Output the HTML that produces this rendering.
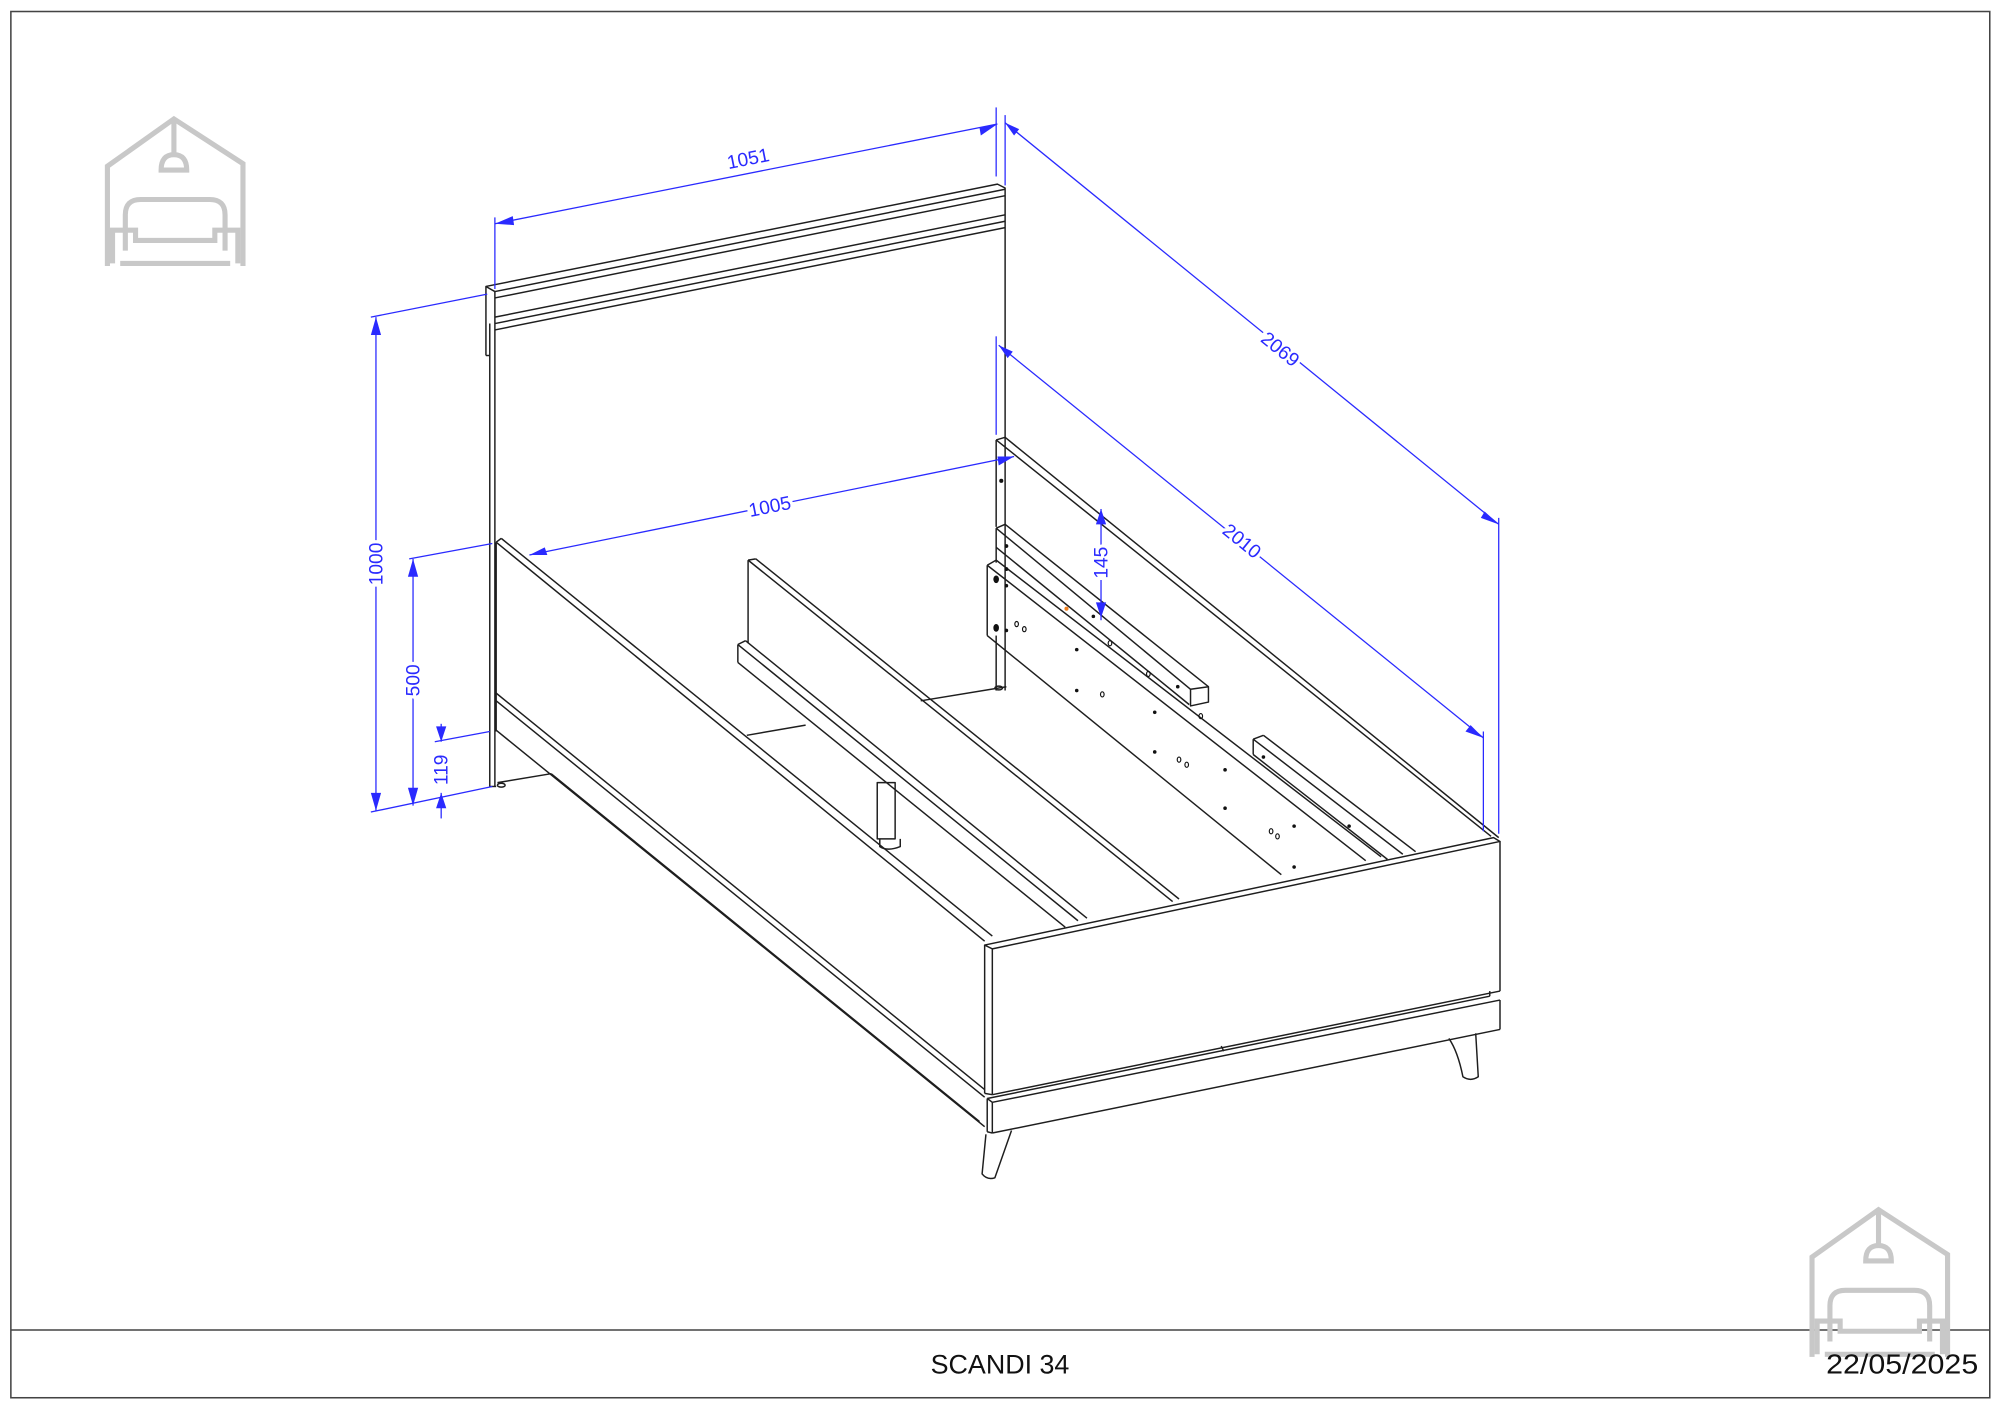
<!DOCTYPE html>
<html><head><meta charset="utf-8"><style>
html,body{margin:0;padding:0;background:#fff;}
svg{display:block;}
text{font-family:"Liberation Sans",sans-serif;}
</style></head><body>
<svg width="2000" height="1409" viewBox="0 0 1564 1101.8" preserveAspectRatio="none" xmlns="http://www.w3.org/2000/svg">
<rect x="0" y="0" width="1564" height="1102" fill="#fff"/>
<rect x="8.5" y="9" width="1547.5" height="1084" fill="none" stroke="#444" stroke-width="1.2"/>
<line x1="8.5" y1="1040" x2="1556" y2="1040" stroke="#444" stroke-width="1.2"/>

<!-- logos -->
<g id="logo" fill="none" stroke="#c8c8c8" stroke-width="4" stroke-linejoin="miter">
<polyline points="84,208 84,130 136,93 190,128 190,208"/>
<line x1="136" y1="95" x2="136" y2="120"/>
<path d="M126,133 Q126,121 136,121 Q146,121 146,133 Z"/>
<path d="M98,196 L98,168 Q98,156 110,156 L164,156 Q176,156 176,168 L176,196"/>
<path d="M88,206 L88,180 L106,180 L106,188 L168,188 L168,180 L186,180 L186,206"/>
<line x1="94" y1="206" x2="180" y2="206"/>
</g>
<use href="#logo" transform="translate(1333,853)"/>

<text x="782" y="1074" font-size="21" text-anchor="middle" fill="#111">SCANDI 34</text>
<text x="1547" y="1074" font-size="22" text-anchor="end" fill="#111" textLength="119" lengthAdjust="spacingAndGlyphs">22/05/2025</text>

<!-- bed -->
<g fill="none" stroke="#1e1e1e" stroke-width="1.15" stroke-linejoin="round">
<!-- headboard -->
<polyline points="380,278 380,224 780,144 786,147 786,540"/>
<line x1="380" y1="224" x2="387" y2="228"/>
<line x1="387" y1="228" x2="786" y2="148"/>
<line x1="387" y1="233" x2="786" y2="153"/>
<line x1="387" y1="248" x2="786" y2="168"/>
<line x1="387" y1="253" x2="786" y2="173"/>
<line x1="387" y1="258" x2="786" y2="178"/>
<line x1="387" y1="228" x2="387" y2="615"/>
<line x1="383" y1="253" x2="383" y2="615"/>
<line x1="380" y1="278" x2="383" y2="278"/>
<line x1="383" y1="615" x2="388" y2="615"/>
<line x1="389" y1="612" x2="431" y2="605"/>
<ellipse cx="392" cy="614" rx="3" ry="1.5"/>
<line x1="720" y1="548" x2="787" y2="537"/>
<ellipse cx="781" cy="538" rx="3" ry="1.5"/>

<!-- left side rail -->
<line x1="388" y1="424" x2="392" y2="421"/>
<line x1="388" y1="424" x2="770" y2="736"/>
<line x1="392" y1="421" x2="776" y2="732"/>
<line x1="388" y1="424" x2="388" y2="572"/>
<line x1="388" y1="542" x2="770" y2="852"/>
<line x1="388" y1="548" x2="770" y2="858"/>
<line x1="388" y1="571" x2="770" y2="881"/>
<line x1="431" y1="605" x2="766" y2="877"/>

<!-- center panel and beam -->
<line x1="585" y1="438" x2="591" y2="437"/>
<line x1="585" y1="438" x2="917" y2="705"/>
<line x1="591" y1="437" x2="922" y2="703"/>
<line x1="585" y1="438" x2="585" y2="503"/>
<line x1="577" y1="504" x2="583" y2="501"/>
<line x1="583" y1="501" x2="850" y2="718"/>
<line x1="577" y1="504" x2="843" y2="720"/>
<line x1="577" y1="504" x2="577" y2="518"/>
<line x1="577" y1="518" x2="833" y2="725"/>
<line x1="584" y1="575" x2="630" y2="567"/>
<rect x="686" y="612" width="14" height="44"/>
<path d="M688,656 L688,662 Q694,666 704,662 L704,656"/>

<!-- right side rail -->
<line x1="779" y1="344" x2="786" y2="342"/>
<line x1="779" y1="344" x2="1166" y2="654"/>
<line x1="786" y1="342" x2="1172" y2="655"/>
<line x1="779" y1="344" x2="779" y2="412"/>
<line x1="779" y1="497" x2="779" y2="540"/>
<!-- upper support -->
<line x1="779" y1="413" x2="786" y2="410"/>
<line x1="786" y1="410" x2="945" y2="537"/>
<line x1="779" y1="413" x2="931" y2="539"/>
<line x1="779" y1="413" x2="779" y2="440"/>
<line x1="779" y1="428" x2="930" y2="551"/>
<polygon points="931,539 945,537 945,549 931,552"/>
<!-- plate -->
<line x1="772" y1="442" x2="779" y2="438"/>
<line x1="779" y1="438" x2="1080" y2="670"/>
<line x1="772" y1="442" x2="1068" y2="673"/>
<line x1="772" y1="442" x2="772" y2="497"/>
<line x1="772" y1="497" x2="1002" y2="684"/>
<!-- short support -->
<line x1="980" y1="578" x2="988" y2="575"/>
<line x1="988" y1="575" x2="1107" y2="666"/>
<line x1="980" y1="578" x2="1097" y2="668"/>
<line x1="980" y1="578" x2="980" y2="590"/>
<line x1="980" y1="590" x2="1085" y2="672"/>

<!-- footboard -->
<polygon points="770,739 1168,655 1173,658 776,742" fill="#fff"/>
<line x1="770" y1="739" x2="770" y2="855"/>
<line x1="776" y1="742" x2="776" y2="856"/>
<line x1="1173" y1="658" x2="1173" y2="775"/>
<line x1="776" y1="856" x2="1173" y2="775"/>
<line x1="770" y1="855" x2="776" y2="856"/>
<!-- plinth -->
<line x1="772" y1="859" x2="1165" y2="779"/>
<line x1="772" y1="859" x2="776" y2="862"/>
<line x1="776" y1="862" x2="1173" y2="782"/>
<line x1="1165" y1="779" x2="1165" y2="775"/>
<line x1="772" y1="859" x2="772" y2="885"/>
<line x1="776" y1="862" x2="776" y2="886"/>
<line x1="776" y1="886" x2="1173" y2="805"/>
<line x1="1173" y1="782" x2="1173" y2="805"/>
<line x1="772" y1="885" x2="776" y2="886"/>
<line x1="955" y1="818" x2="957" y2="822"/>
<!-- legs -->
<path d="M771,887 L768,918 Q772,923 778,921 L791,884"/>
<path d="M1133,812 Q1140,822 1144,842 Q1150,846 1156,842 L1154,808"/>
</g>

<!-- holes -->
<g fill="#111">
<circle cx="783" cy="376" r="1.6"/><circle cx="787" cy="427" r="1.5"/><circle cx="787" cy="445" r="1.5"/>
<ellipse cx="779" cy="453" rx="2.2" ry="3"/><ellipse cx="779" cy="491" rx="2.2" ry="3"/>
<circle cx="787" cy="458" r="1.4"/><circle cx="787" cy="493" r="1.4"/>
<circle cx="855" cy="482" r="1.4"/><circle cx="842" cy="508" r="1.4"/><circle cx="842" cy="540" r="1.4"/>
<circle cx="903" cy="557" r="1.4"/><circle cx="921" cy="537" r="1.4"/><circle cx="903" cy="588" r="1.4"/>
<circle cx="958" cy="602" r="1.4"/><circle cx="958" cy="632" r="1.4"/><circle cx="1012" cy="646" r="1.4"/>
<circle cx="1012" cy="678" r="1.4"/><circle cx="988" cy="592" r="1.4"/><circle cx="1055" cy="646" r="1.4"/>
<circle cx="834" cy="476" r="1.6" fill="#f08020"/>
</g>
<g fill="none" stroke="#111" stroke-width="0.9">
<ellipse cx="795" cy="488" rx="1.4" ry="2"/><ellipse cx="801" cy="492" rx="1.4" ry="2"/>
<ellipse cx="868" cy="503" rx="1.4" ry="2"/><ellipse cx="898" cy="527" rx="1.4" ry="2"/>
<ellipse cx="862" cy="543" rx="1.4" ry="2"/><ellipse cx="939" cy="560" rx="1.4" ry="2"/>
<ellipse cx="922" cy="594" rx="1.4" ry="2"/><ellipse cx="928" cy="598" rx="1.4" ry="2"/>
<ellipse cx="994" cy="650" rx="1.4" ry="2"/><ellipse cx="999" cy="654" rx="1.4" ry="2"/>
</g>

<!-- dimensions -->
<g stroke="#2a2aff" stroke-width="1" fill="none">
<line x1="387" y1="175" x2="780" y2="97"/>
<line x1="387" y1="170" x2="387" y2="226"/>
<line x1="779" y1="84" x2="779" y2="138"/>
<line x1="786" y1="90" x2="786" y2="145"/>
<line x1="786" y1="96" x2="1172" y2="410"/>
<line x1="1172" y1="405" x2="1172" y2="652"/>
<line x1="781" y1="270" x2="1160" y2="577"/>
<line x1="779" y1="263" x2="779" y2="340"/>
<line x1="1160" y1="572" x2="1160" y2="650"/>
<line x1="414" y1="434" x2="793" y2="357"/>
<line x1="294" y1="248" x2="294" y2="634"/>
<line x1="290" y1="248" x2="381" y2="230"/>
<line x1="290" y1="635" x2="385" y2="615"/>
<line x1="323" y1="437" x2="323" y2="630"/>
<line x1="320" y1="437" x2="385" y2="425"/>
<line x1="340" y1="580" x2="383" y2="572"/>
<line x1="345" y1="566" x2="345" y2="580"/>
<line x1="345" y1="620" x2="345" y2="640"/>
<line x1="861" y1="398" x2="861" y2="485"/>
</g>
<g fill="#2a2aff" stroke="none">
<polygon points="387,175 401,169 402,176"/>
<polygon points="780,97 766,100 767,106"/>
<polygon points="786,96 797,101 793,106"/>
<polygon points="1172,410 1161,400 1158,405"/>
<polygon points="781,270 792,275 788,280"/>
<polygon points="1160,577 1150,567 1146,572"/>
<polygon points="414,434 426,428 428,434"/>
<polygon points="793,357 780,357 781,364"/>
<polygon points="294,248 290,262 298,262"/>
<polygon points="294,634 290,620 298,620"/>
<polygon points="323,437 319,451 327,451"/>
<polygon points="323,630 319,616 327,616"/>
<polygon points="345,580 341,568 349,568"/>
<polygon points="345,620 341,632 349,632"/>
<polygon points="861,398 857,410 865,410"/>
<polygon points="861,483 857,471 865,471"/>
</g>
<g fill="#2a2aff" font-size="15" text-anchor="middle" stroke="#fff" stroke-width="5" paint-order="stroke">
<text transform="translate(586,129) rotate(-11.3)">1051</text>
<text transform="translate(998,277) rotate(39)">2069</text>
<text transform="translate(968,427) rotate(39)">2010</text>
<text transform="translate(603,401) rotate(-11.3)">1005</text>
<text transform="translate(299,441) rotate(-90)">1000</text>
<text transform="translate(328,532) rotate(-90)">500</text>
<text transform="translate(350,602) rotate(-90)">119</text>
<text transform="translate(866,440) rotate(-90)">145</text>
</g>
</svg>
</body></html>
